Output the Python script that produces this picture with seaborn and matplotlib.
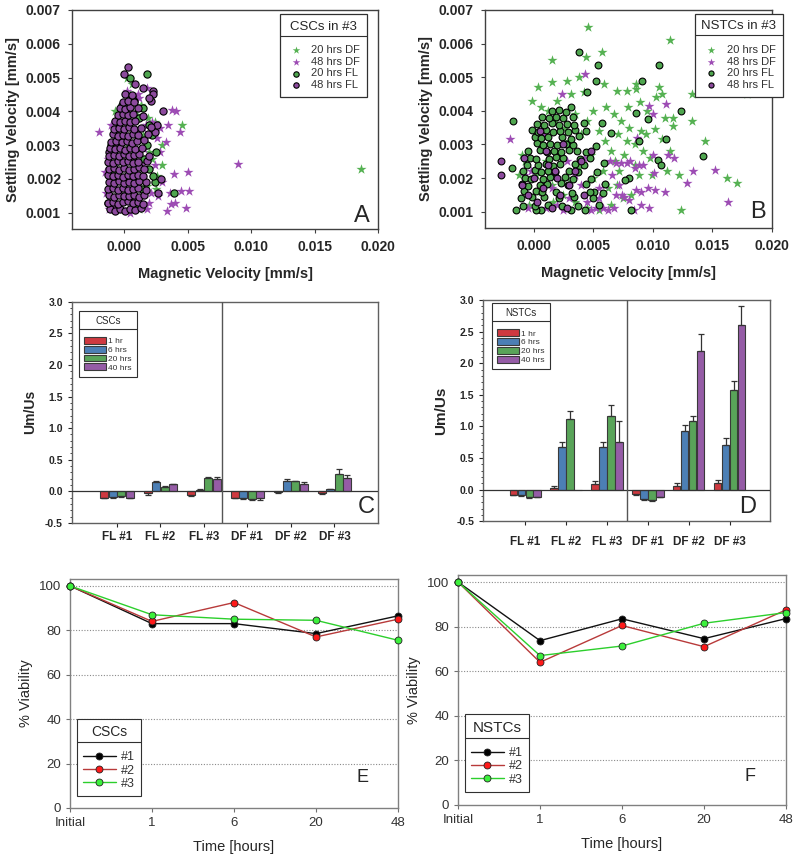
import numpy as np
import pandas as pd
import matplotlib
matplotlib.use("Agg")
import matplotlib.pyplot as plt
from matplotlib.lines import Line2D
import seaborn as sns

sns.set_style("ticks")
plt.rcParams['font.family'] = ['Liberation Sans', 'DejaVu Sans']

# ---------------- scatter data (units of 1e-4 mm/s) ----------------
csc_df20 = [(187, 23), (46, 36), (30, 30), (30, 24), (26, 21), (25, 17), (-7, 40), (2, 50), (6, 48),
            (19, 38), (24, 37), (13, 42), (5, 45), (-3, 35), (10, 39), (15, 33), (20, 28), (8, 20),
            (0, 15), (-10, 12), (18, 18), (22, 26), (-6, 25), (3, 30), (12, 11)]
csc_df48 = [(90, 24.5), (-20, 34), (-15, 22), (38, 40.5), (41, 40), (35, 36), (44, 34), (33, 31),
            (39, 21.5), (50, 22), (45, 16.5), (51, 16.5), (36, 16), (37, 12.5), (40, 13), (34, 10.5),
            (49, 11.5), (28, 28), (27, 15), (18, 47), (11, 45), (9, 34), (15, 35), (17, 36), (22, 37),
            (28, 35), (-10, 36), (-5, 30), (2, 46), (-12, 11), (-8, 12), (5, 10), (18, 11), (20, 13),
            (-13, 26), (24, 24), (30, 19), (12, 44), (-9, 19), (14, 24), (21, 16), (26, 32), (16, 29),
            (-14, 16), (7, 14)]
csc_fl20 = [(18, 51), (5, 50), (6, 44.5), (39, 16), (24, 19), (25, 28), (20, 23), (-2, 42), (8, 43),
            (-5, 35), (14, 17), (10, 12), (18, 30), (22, 33), (12, 38), (1, 40), (-8, 22), (23, 21),
            (16, 26), (3, 14), (-10, 30), (9, 25), (20, 36), (15, 41)]
csc_fl48 = [(3, 53), (0, 51), (9, 48), (23, 46), (23, 45), (21, 43), (31, 40), (29, 20), (27, 16),
            (24, 34), (26, 36), (-12, 28), (-13, 13), (20, 44), (15, 47),
            (-11, 11), (-7, 10.5), (-3, 11.2), (1, 10.6), (5, 11.1), (9, 10.8), (13, 11.4),
            (-13, 12.8), (-9, 13.3), (-5, 12.7), (-1, 13.1), (3, 13.4), (7, 12.9), (11, 13.2), (15, 12.6),
            (-12, 15.2), (-8, 14.8), (-4, 15.3), (0, 14.9), (4, 15.1), (8, 15.4), (12, 14.7), (16, 15.2),
            (-13, 16.9), (-9, 17.3), (-5, 16.8), (-1, 17.2), (3, 16.7), (7, 17.1), (11, 17.4), (17, 16.8),
            (-12, 19.1), (-8, 18.7), (-4, 19.3), (0, 18.9), (4, 19.2), (8, 18.8), (12, 19.4), (17, 19),
            (-13, 21.2), (-9, 20.8), (-5, 21.1), (-1, 20.7), (3, 21.3), (7, 20.9), (11, 21.2), (15, 20.8),
            (-12, 22.9), (-8, 23.3), (-4, 22.8), (0, 23.2), (4, 22.7), (8, 23.1), (12, 23.4), (16, 22.9),
            (-13, 25.1), (-9, 24.7), (-5, 25.3), (-1, 24.9), (3, 25.2), (7, 24.8), (11, 25.1), (18, 25.3),
            (-12, 26.8), (-8, 27.2), (-4, 26.9), (0, 27.3), (4, 26.7), (8, 27.1), (12, 27.4), (20, 26.8),
            (-11, 29.2), (-7, 28.8), (-3, 29.1), (1, 28.7), (5, 29.3), (9, 28.9), (14, 29.1),
            (-10, 30.8), (-6, 31.2), (-2, 30.9), (2, 31.3), (6, 30.7), (10, 31.1), (16, 31.4),
            (-9, 33.2), (-5, 32.8), (-1, 33.1), (3, 32.7), (7, 33.3), (11, 32.9), (19, 33.2),
            (-8, 34.8), (-4, 35.2), (0, 34.9), (4, 35.3), (8, 34.7), (13, 35.1), (21, 35.4),
            (-7, 37.1), (-3, 36.8), (1, 37.3), (5, 36.9), (9, 37.2),
            (-5, 38.8), (-1, 39.2), (3, 38.9), (7, 39.3), (15, 38.7),
            (-3, 41.1), (1, 40.8), (5, 41.3), (11, 40.9), (-1, 42.8), (3, 43.2), (8, 42.9), (1, 45.1), (6, 44.8)]

nstc_df20 = [(46, 65), (114, 61), (144, 59.5), (15, 55), (57, 57.5), (44, 56), (179, 45), (4, 47),
             (15, 48.5), (28, 49), (38, 50), (59, 48), (70, 46), (78, 46), (86, 48), (86, 46.5), (105, 47),
             (108, 45), (133, 45), (133, 37), (117, 38), (117, 35.5), (144, 31), (114, 28), (122, 21),
             (162, 20), (171, 18.5), (124, 10.5), (102, 34.5), (98, 26), (108, 31.5), (89, 42.5), (95, 40),
             (79, 41), (61, 41), (-1, 43), (6, 41), (12, 40), (20, 43), (31, 45), (42, 45.5), (50, 40),
             (67, 39), (73, 37), (80, 35), (85, 30), (92, 28), (99, 21), (112, 22), (94, 33), (71, 33),
             (65, 28), (76, 27), (88, 21), (110, 38), (103, 44), (-10, 27), (-7, 25), (-12, 21),
             (5, 36), (18, 37), (26, 35), (35, 39), (45, 37), (55, 34), (60, 31), (68, 25), (72, 22),
             (58, 22), (48, 27), (40, 33), (30, 31), (20, 27), (10, 25), (2, 21), (15, 18), (25, 15),
             (35, 13), (45, 11), (55, 10.5), (65, 12), (75, 14), (62, 17), (50, 20), (38, 23), (28, 20),
             (16, 13), (6, 16), (-4, 12), (82, 15), (70, 18), (85, 24), (90, 34), (78, 31)]
nstc_df48 = [(-20, 31.5), (24, 45), (43, 51), (97, 41.5), (111, 42), (100, 39), (113, 27), (118, 26),
             (134, 22), (152, 22.5), (129, 18.5), (163, 13), (110, 16), (102, 16.5), (96, 17), (90, 16),
             (86, 16.5), (80, 13.5), (76, 14.5), (74, 15), (72, 18), (69, 24.5), (73, 24.5), (64, 25),
             (60, 18), (55, 17), (67, 11), (58, 11), (52, 11), (90, 12), (97, 11), (84, 10.5), (85, 23),
             (92, 24), (101, 21.5), (100, 27), (87, 32), (-8, 21), (-5, 11), (8, 33), (20, 12), (30, 14),
             (40, 18), (45, 13), (35, 21), (15, 17), (25, 10.5), (10, 11), (48, 10.5), (62, 10.5),
             (66, 21), (78, 24.5), (81, 25), (-2, 22), (28, 25), (42, 26), (55, 14), (88, 24), (69, 15)]
nstc_fl20 = [(38, 57.5), (54, 53.5), (105, 53.5), (91, 49), (52, 49), (45, 45.5), (124, 40), (142, 26.5),
             (111, 31.5), (104, 25.5), (96, 37.5), (88, 31), (80, 20), (82, 10.5), (-17, 37), (-15, 10.5),
             (-18, 23), (86, 39.5), (107, 24), (57, 36.5), (65, 33.5), (77, 19.5), (58, 15.5), (51, 16),
             (6, 10.5), (2, 10.5), (31, 10.5), (43, 10.5),
             (-9, 11.8), (1, 11.6), (12, 11.9), (24, 11.7), (37, 11.8), (55, 12.0),
             (-11, 14.2), (-1, 14.3), (9, 14.4), (21, 14.1), (34, 14.3), (50, 14.2),
             (-8, 16.1), (2, 16.3), (7, 15.8), (19, 15.9), (32, 15.7), (47, 15.8),
             (-10, 18.2), (-5, 17.8), (5, 17.9), (11, 18.1), (23, 18.4), (29, 18.0), (44, 18.2), (60, 18.3),
             (-7, 20.1), (-2, 19.7), (8, 19.8), (14, 20.2), (26, 20.4), (33, 19.7), (48, 19.8),
             (-9, 22.2), (1, 22.3), (6, 21.9), (12, 22.1), (18, 21.7), (30, 22.0), (37, 21.7), (53, 21.9),
             (-6, 23.9), (4, 23.8), (10, 24.2), (16, 23.7), (22, 24.1), (35, 24.3), (42, 23.9), (59, 24.6),
             (-3, 26.1), (2, 25.7), (13, 25.8), (19, 26.2), (25, 25.9), (39, 25.7), (47, 26.1),
             (-5, 28.2), (5, 28.3), (11, 27.9), (17, 28.1), (23, 27.7), (30, 28.4), (36, 28.0), (44, 27.8),
             (3, 30.3), (8, 29.9), (14, 30.2), (20, 29.7), (27, 30.1), (33, 29.8), (52, 29.6),
             (1, 32.2), (6, 31.8), (12, 32.3), (24, 32.1), (31, 31.7), (38, 32.4),
             (-1, 34.3), (4, 33.8), (10, 34.2), (16, 33.7), (22, 34.1), (29, 33.8), (35, 34.3), (44, 33.9),
             (3, 36.1), (9, 35.7), (15, 36.3), (21, 35.8), (28, 36.2), (34, 35.9), (42, 36.4),
             (7, 38.2), (13, 37.8), (19, 38.3), (25, 37.9), (33, 38.1),
             (15, 39.8), (21, 40.2), (27, 39.7), (31, 41.2)]
nstc_fl48 = [(-27, 25), (-27, 21), (-8, 26), (5, 34), (10, 28), (20, 20), (35, 22), (48, 28), (22, 15),
             (15, 11), (8, 17), (0, 20), (-5, 15), (30, 18), (40, 25), (12, 24), (3, 13), (25, 30),
             (-10, 18), (18, 22), (42, 15), (28, 11)]

scatter_labels = ["20 hrs DF", "48 hrs DF", "20 hrs FL", "48 hrs FL"]

# ---------------- bar data (Um/Us) ----------------
bar_groups = ["FL #1", "FL #2", "FL #3", "DF #1", "DF #2", "DF #3"]
bar_times = ["1 hr", "6 hrs", "20 hrs", "40 hrs"]
csc_vals = {"1 hr": [-0.10, -0.03, -0.06, -0.10, -0.01, -0.03],
            "6 hrs": [-0.09, 0.15, 0.02, -0.11, 0.17, 0.03],
            "20 hrs": [-0.08, 0.07, 0.21, -0.12, 0.16, 0.28],
            "40 hrs": [-0.10, 0.11, 0.20, -0.11, 0.12, 0.21]}
csc_errs = {"1 hr": [0.01, 0.03, 0.01, 0.01, 0.01, 0.02],
            "6 hrs": [0.01, 0.01, 0.01, 0.01, 0.02, 0.01],
            "20 hrs": [0.01, 0.02, 0.02, 0.02, 0.01, 0.07],
            "40 hrs": [0.01, 0.01, 0.02, 0.02, 0.02, 0.05]}
nstc_vals = {"1 hr": [-0.08, 0.02, 0.09, -0.07, 0.06, 0.10],
             "6 hrs": [-0.09, 0.68, 0.67, -0.15, 0.93, 0.70],
             "20 hrs": [-0.12, 1.11, 1.17, -0.17, 1.08, 1.57],
             "40 hrs": [-0.11, 0.00, 0.75, -0.11, 2.20, 2.60]}
nstc_errs = {"1 hr": [0.01, 0.03, 0.04, 0.01, 0.04, 0.05],
             "6 hrs": [0.01, 0.08, 0.08, 0.01, 0.09, 0.12],
             "20 hrs": [0.01, 0.13, 0.17, 0.01, 0.09, 0.15],
             "40 hrs": [0.01, 0.00, 0.33, 0.01, 0.27, 0.31]}

# ---------------- viability data (%) ----------------
time_labels = ["Initial", "1", "6", "20", "48"]
reps = ["#1", "#2", "#3"]
csc_via = {"#1": [100, 83, 83, 78.5, 86.5],
           "#2": [100, 84, 92.5, 77, 85],
           "#3": [100, 87, 85, 84.5, 75.5]}
nstc_via = {"#1": [100, 73.7, 83.5, 74.6, 83.6],
            "#2": [100, 64, 80.5, 71, 87.5],
            "#3": [100, 67, 71.3, 81.5, 86.3]}

# styles
star_green, star_purple = "#55b152", "#9d4cb4"
circ_green, circ_purple = "#4fa64f", "#8c4a9d"
bar_colors = ["#e8202a", "#3b7fc6", "#4cb04c", "#9c4fb3"]
line_colors = ["#111111", "#b83a3a", "#2ccf2c"]
face_colors = ["#000000", "#ff1a1a", "#3cf03c"]

fig = plt.figure(figsize=(8, 8.6), dpi=100)


def to_df(points):
    arr = np.array(points, dtype=float) * 1e-4
    return pd.DataFrame({"x": arr[:, 0], "y": arr[:, 1]})


def title_rule(leg, color="black", lw=0.8):
    r = fig.canvas.get_renderer()
    fb = leg.get_frame().get_window_extent(r)
    tb = leg.get_title().get_window_extent(r)
    y = tb.y0 - 3
    inv = fig.transFigure.inverted()
    (x0, yy), (x1, _) = inv.transform([(fb.x0, y), (fb.x1, y)])
    fig.add_artist(Line2D([x0, x1], [yy, yy], transform=fig.transFigure, color=color, lw=lw))


def style_frame(ax, color="#404040", lw=1.0):
    for s in ax.spines.values():
        s.set_visible(True)
        s.set_color(color)
        s.set_linewidth(lw)


# ---------------- A / B scatter ----------------
def scatter_panel(rect, series, title, letter, letter_pos, leg_anchor, circ_size):
    ax = fig.add_axes(rect)
    styles = [("*", star_green, 58, "none"), ("*", star_purple, 58, "none"),
              ("o", circ_green, circ_size, "black"), ("o", circ_purple, circ_size, "black")]
    for pts, (m, c, s, ec), lab in zip(series, styles, scatter_labels):
        d = to_df(pts)
        sns.scatterplot(data=d, x="x", y="y", marker=m, color=c, s=s,
                        edgecolor=ec if ec != "none" else c, linewidth=0.8 if ec != "none" else 0,
                        ax=ax, label=lab, legend=True, zorder=3)
    ax.set_xlim(-0.0041, 0.0200)
    ax.set_ylim(0.00052, 0.007)
    ax.set_xticks([0, 0.005, 0.010, 0.015, 0.020])
    ax.set_yticks([0.001, 0.002, 0.003, 0.004, 0.005, 0.006, 0.007])
    ax.set_xticklabels(["0.000", "0.005", "0.010", "0.015", "0.020"])
    ax.set_yticklabels(["0.001", "0.002", "0.003", "0.004", "0.005", "0.006", "0.007"])
    ax.tick_params(labelsize=10, length=3, width=0.8, color="#404040", pad=5)
    for t in ax.get_xticklabels() + ax.get_yticklabels():
        t.set_fontweight("bold")
    ax.set_xlabel("Magnetic Velocity [mm/s]", fontsize=10.5, fontweight="bold", labelpad=9)
    ax.set_ylabel("Settling Velocity [mm/s]", fontsize=10.5, fontweight="bold", labelpad=4)
    style_frame(ax)
    h, l = ax.get_legend_handles_labels()
    leg = ax.legend(h, l, title=title, loc="upper right", bbox_to_anchor=leg_anchor,
                    borderaxespad=0, fontsize=8, title_fontsize=9.5, frameon=True, fancybox=False,
                    edgecolor="#303030", framealpha=1, markerscale=0.75, handletextpad=0.6,
                    labelspacing=0.15, borderpad=0.6, handlelength=1.6)
    leg.get_frame().set_linewidth(0.9)
    leg._legend_box.sep = 9
    for t in leg.get_texts():
        t.set_color("#333333")
    ax.text(letter_pos[0], letter_pos[1], letter, transform=ax.transAxes, fontsize=17,
            ha="center", va="center")
    return ax, leg


axA, legA = scatter_panel([0.09, 0.7337, 0.3825, 0.2547], [csc_df20, csc_df48, csc_fl20, csc_fl48],
                          "CSCs in #3", "A", (0.948, 0.06), (0.964, 0.982), 27)
axB, legB = scatter_panel([0.606, 0.735, 0.359, 0.2535], [nstc_df20, nstc_df48, nstc_fl20, nstc_fl48],
                          "NSTCs in #3", "B", (0.951, 0.075), (1.038, 0.982), 24)


# ---------------- C / D bars ----------------
def bar_panel(rect, vals, errs, title, letter, letter_pos, divider, leg_anchor, ylab_size, xpad):
    ax = fig.add_axes(rect)
    rows = []
    for t in bar_times:
        for g, v in zip(bar_groups, vals[t]):
            rows.append({"group": g, "time": t, "value": v})
    df = pd.DataFrame(rows)
    sns.barplot(data=df, x="group", y="value", hue="time", palette=bar_colors, width=0.78, gap=0.06,
                edgecolor="#3a3a3a", linewidth=0.8, errorbar=None, ax=ax, zorder=2)
    for t, cont in zip(bar_times, ax.containers):
        for bar, e, v in zip(cont, errs[t], vals[t]):
            if e <= 0:
                continue
            xc = bar.get_x() + bar.get_width() / 2
            yerr = [[0], [e]] if v >= 0 else [[e], [0]]
            ax.errorbar(xc, v, yerr=yerr, fmt="none", ecolor="#333333", elinewidth=0.9,
                        capsize=2.5, capthick=0.9, zorder=3)
    ax.axhline(0, color="#333333", lw=0.9, zorder=4)
    ax.axvline(divider, color="#555555", lw=1.0, zorder=4)
    ax.set_xlim(-1.03, 6.0)
    ax.set_ylim(-0.5, 3.0)
    ax.set_yticks(np.arange(-0.5, 3.01, 0.5))
    ax.set_yticklabels(["-0.5", "0.0", "0.5", "1.0", "1.5", "2.0", "2.5", "3.0"])
    ax.set_yticks(np.arange(-0.5, 3.0, 0.1), minor=True)
    ax.tick_params(axis="y", which="major", labelsize=7.5, length=3, width=0.8)
    ax.tick_params(axis="y", which="minor", length=1.5, width=0.6, left=True)
    ax.tick_params(axis="x", labelsize=8.5, length=3, width=0.8, pad=xpad)
    for tl in ax.get_xticklabels() + ax.get_yticklabels():
        tl.set_fontweight("bold")
    ax.set_xlabel("")
    ax.set_ylabel("Um/Us", fontsize=ylab_size, fontweight="bold", labelpad=6)
    style_frame(ax, "#606060", 1.0)
    h, l = ax.get_legend_handles_labels()
    leg = ax.legend(h, l, title=title, loc="upper left", bbox_to_anchor=leg_anchor, borderaxespad=0,
                    fontsize=6, title_fontsize=7, frameon=True, fancybox=False, edgecolor="#303030",
                    framealpha=1, handlelength=2.6, handleheight=0.9, handletextpad=0.3,
                    labelspacing=0.05, borderpad=0.6)
    leg.get_frame().set_linewidth(0.8)
    leg._legend_box.sep = 8
    for t in leg.get_texts():
        t.set_color("#333333")
    ax.text(letter_pos[0], letter_pos[1], letter, transform=ax.transAxes, fontsize=17,
            ha="center", va="center")
    return ax, leg


axC, legC = bar_panel([0.09, 0.392, 0.3825, 0.257], csc_vals, csc_errs, "CSCs", "C", (0.962, 0.07),
                      2.42, (0.023, 0.959), 10, 3)
axD, legD = bar_panel([0.604, 0.394, 0.359, 0.257], nstc_vals, nstc_errs, "NSTCs", "D", (0.92, 0.065),
                      2.5, (0.031, 0.986), 11, 8)


# ---------------- E / F viability ----------------
def line_panel(rect, data, title, letter, letter_pos, leg_anchor, title_size):
    ax = fig.add_axes(rect)
    rows = []
    for r in reps:
        for t, v in zip(time_labels, data[r]):
            rows.append({"time": t, "rep": r, "value": v})
    df = pd.DataFrame(rows)
    sns.lineplot(data=df, x="time", y="value", hue="rep", palette=line_colors, marker="o",
                 markersize=5, markeredgecolor="#222222", markeredgewidth=0.6, linewidth=1.0,
                 sort=False, ax=ax, zorder=3)
    for ln, fc in zip(ax.lines, face_colors):
        ln.set_markerfacecolor(fc)
        ln.set_clip_on(False)
    ax.set_xlim(0, 4)
    ax.set_ylim(0, 103)
    ax.set_yticks([0, 20, 40, 60, 80, 100])
    for yv in [20, 40, 60, 80, 100]:
        ax.axhline(yv, color="#8a8a8a", lw=0.8, ls=(0, (1, 1.5)), zorder=1)
    ax.tick_params(labelsize=9.5, length=3, width=0.8, color="#707070", labelcolor="#333333")
    ax.set_xlabel("Time [hours]", fontsize=10.5, labelpad=8)
    ax.set_ylabel("% Viability", fontsize=10.5, labelpad=4)
    style_frame(ax, "#808080", 1.0)
    h, l = ax.get_legend_handles_labels()
    for hh, fc in zip(h, face_colors):
        hh.set_markerfacecolor(fc)
    leg = ax.legend(h, l, title=title, loc="lower left", bbox_to_anchor=leg_anchor, borderaxespad=0,
                    fontsize=9, title_fontsize=title_size, frameon=True, fancybox=False,
                    edgecolor="#303030", framealpha=1, handlelength=2.6, handletextpad=0.4,
                    labelspacing=0.1, borderpad=0.5)
    leg.get_frame().set_linewidth(0.8)
    leg._legend_box.sep = 9
    for t in leg.get_texts():
        t.set_color("#333333")
    ax.text(letter_pos[0], letter_pos[1], letter, transform=ax.transAxes, fontsize=13,
            ha="center", va="center")
    return ax, leg


axE, legE = line_panel([0.0875, 0.0605, 0.41, 0.266], csc_via, "CSCs", "E", (0.893, 0.135),
                       (0.021, 0.052), 10)
axF, legF = line_panel([0.5725, 0.064, 0.41, 0.267], nstc_via, "NSTCs", "F", (0.89, 0.126),
                       (0.021, 0.057), 11)

fig.canvas.draw()
for lg in [legA, legB, legC, legD, legE, legF]:
    title_rule(lg, "#303030", 0.8)

fig.savefig("out.png", dpi=100)
